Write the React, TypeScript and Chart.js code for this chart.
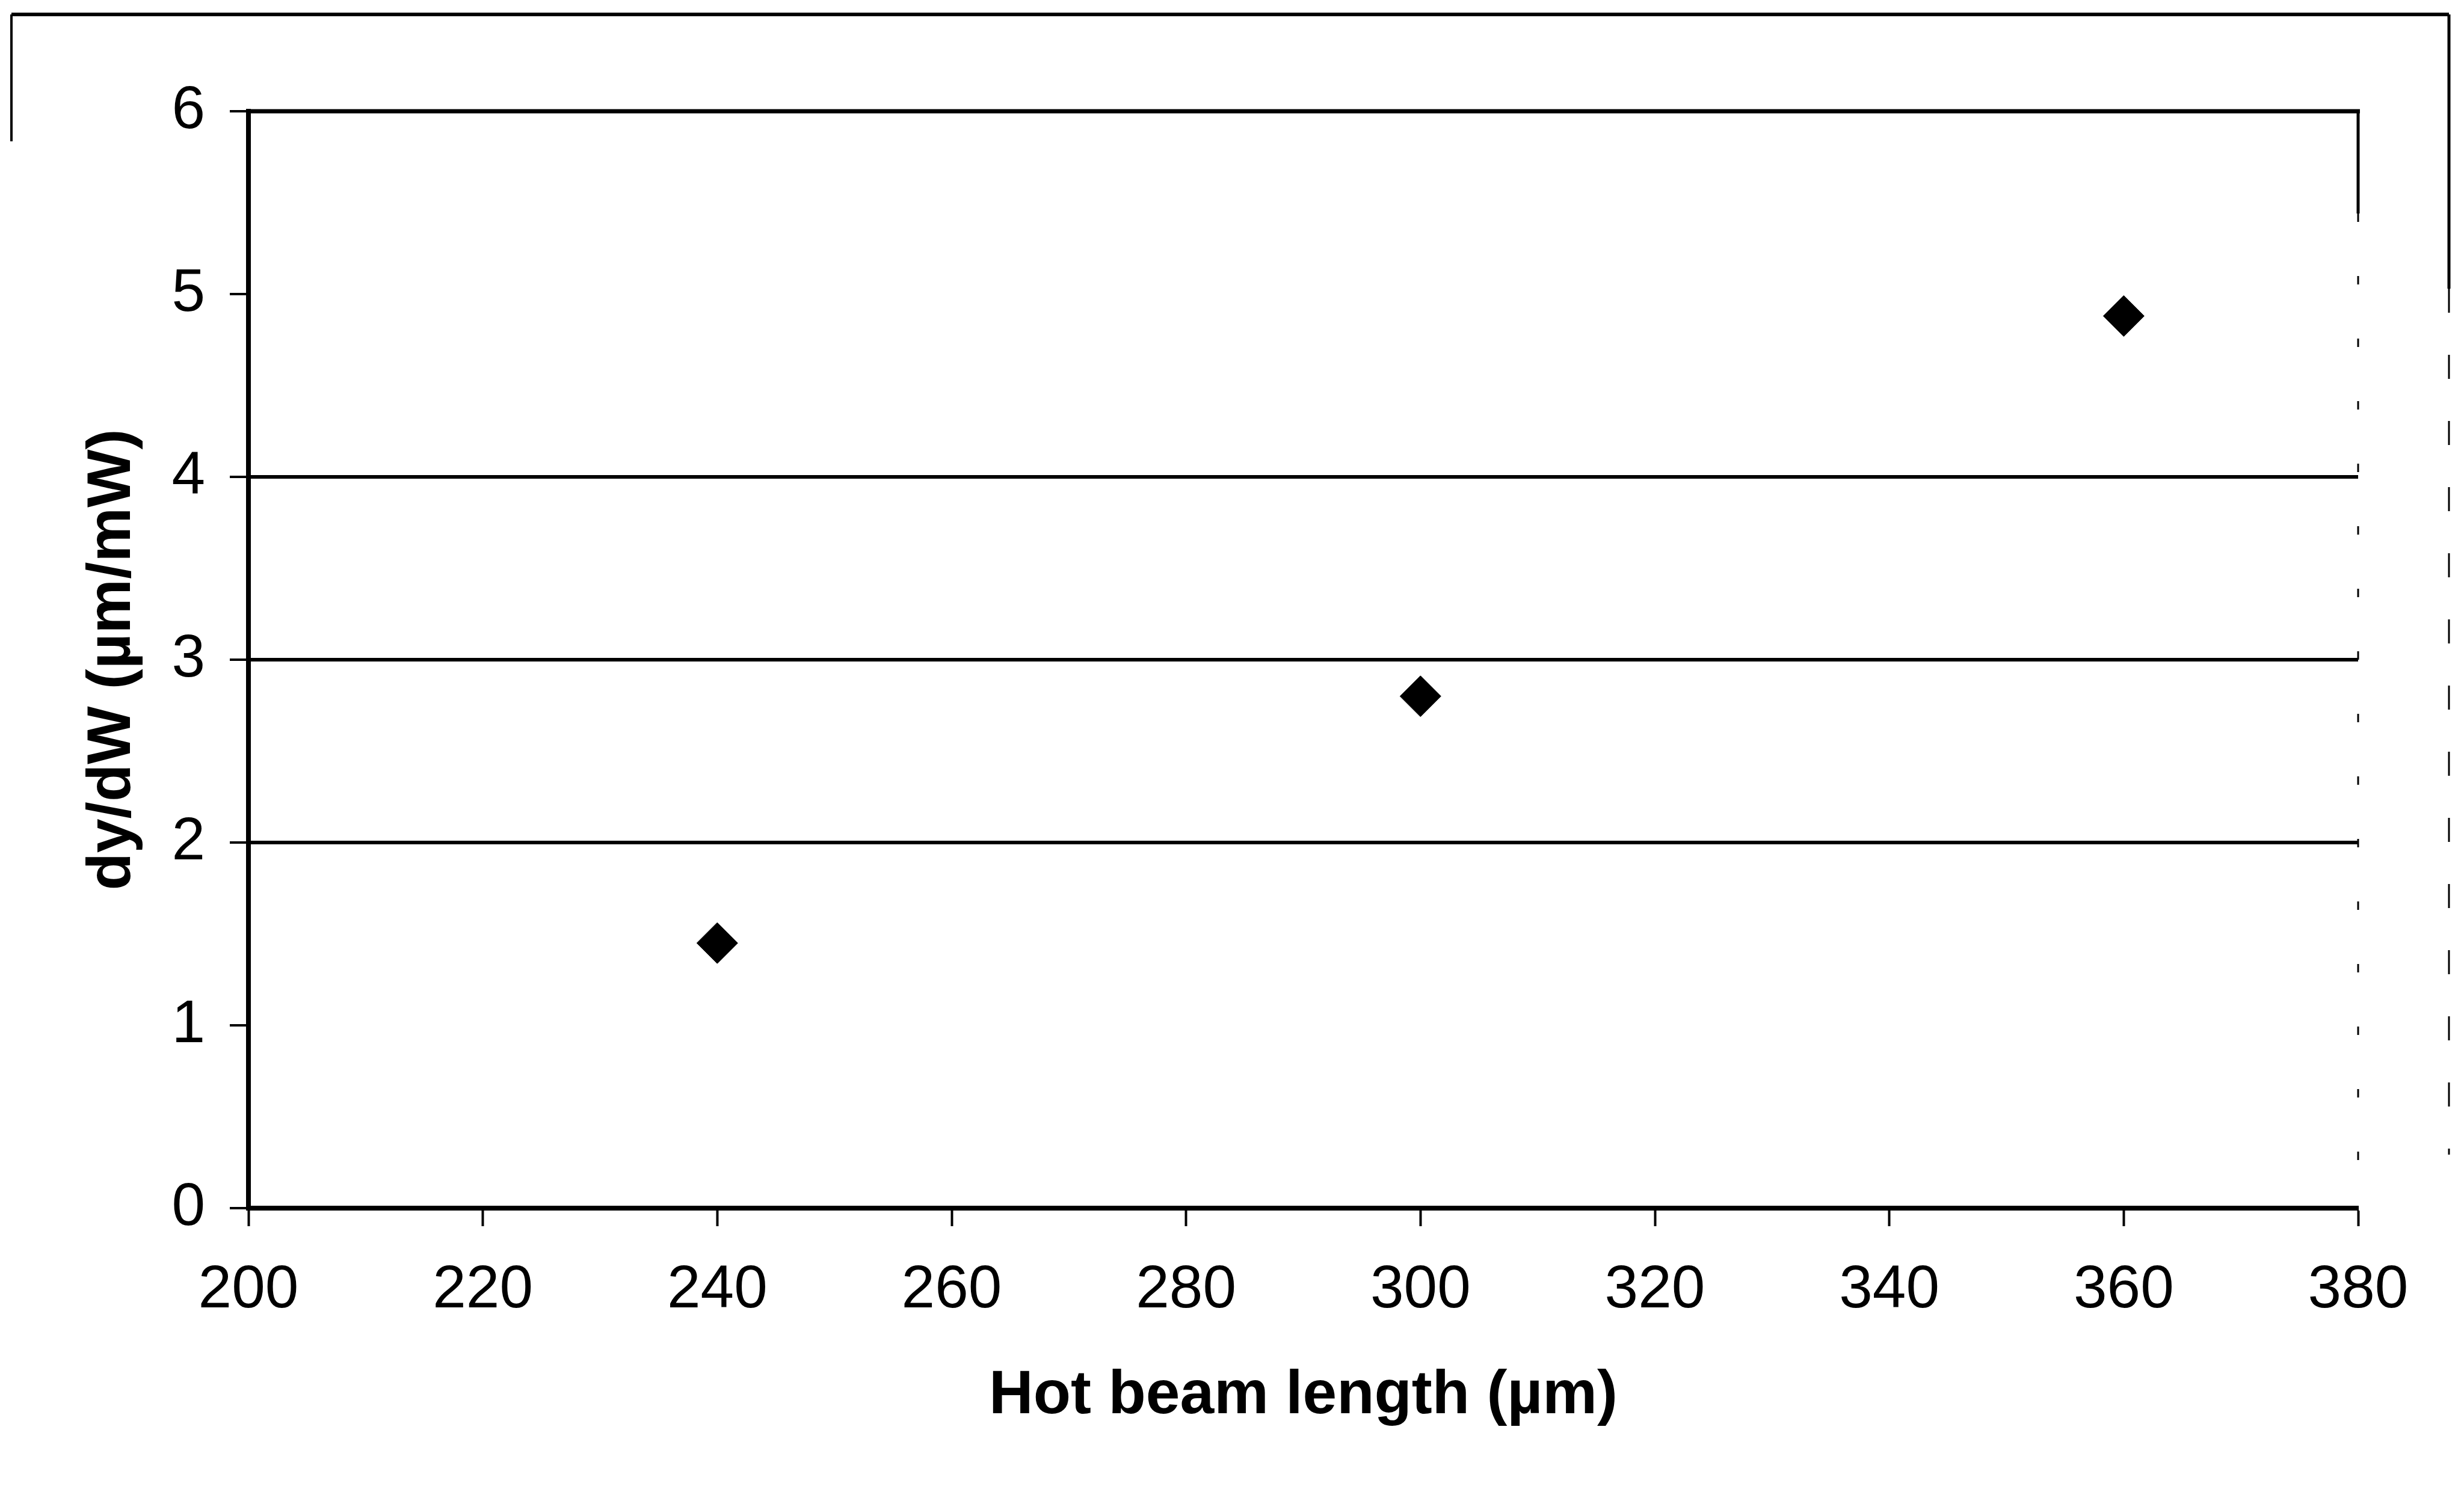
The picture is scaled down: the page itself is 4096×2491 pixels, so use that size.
import React, { useEffect, useRef } from "react";
import { Chart, registerables } from "chart.js";

Chart.register(...registerables);

// Measured sensitivity of the actuator versus hot beam length
const beamLengths = [240, 300, 360];
const sensitivity = [1.45, 2.8, 4.88];

// Axis ticks and labels
const xTicks = [200, 220, 240, 260, 280, 300, 320, 340, 360, 380];
const yTicks = [0, 1, 2, 3, 4, 5, 6];
const gridValues = [2, 3, 4];
const xTitle = "Hot beam length (µm)";
const yTitle = "dy/dW (µm/mW)";

const FONT = "'Liberation Sans', Arial, Helvetica, sans-serif";

function strokeLine(ctx: CanvasRenderingContext2D, x1: number, y1: number, x2: number, y2: number, w: number, dash: number[] = []) {
  ctx.beginPath();
  ctx.lineWidth = w;
  ctx.setLineDash(dash);
  ctx.moveTo(x1, y1);
  ctx.lineTo(x2, y2);
  ctx.stroke();
}

// Plot-area top/right edges and the outer chart frame
const framePlugin = {
  id: "frame",
  afterDraw(chart: any) {
    const { ctx, chartArea: a, width } = chart;
    ctx.save();
    ctx.strokeStyle = "#000";
    ctx.lineCap = "butt";
    strokeLine(ctx, a.left - 4, a.top, a.right + 3, a.top, 7);
    strokeLine(ctx, a.right, a.top, a.right, a.top + 170, 5);
    strokeLine(ctx, a.right, a.top + 170, a.right, a.bottom, 3, [14, 90]);
    const fx1 = 19;
    const fx2 = width - 25;
    const fy = 24;
    strokeLine(ctx, fx1, fy, fx2, fy, 6);
    strokeLine(ctx, fx1, fy, fx1, 235, 4);
    strokeLine(ctx, fx2, fy, fx2, 480, 5);
    strokeLine(ctx, fx2, 480, fx2, 1920, 3, [40, 70]);
    ctx.restore();
  },
};

export default function App() {
  const ref = useRef<HTMLCanvasElement | null>(null);

  useEffect(() => {
    document.body.style.margin = "0";
    document.body.style.overflow = "hidden";
    const canvas = ref.current;
    if (!canvas) return;

    const chart = new Chart(canvas, {
      type: "scatter",
      data: {
        datasets: [
          {
            data: beamLengths.map((x, i) => ({ x, y: sensitivity[i] })),
            pointStyle: "rectRot",
            pointRadius: 34,
            pointHoverRadius: 34,
            backgroundColor: "#000",
            borderColor: "#000",
            borderWidth: 1,
          },
        ],
      },
      options: {
        responsive: false,
        animation: false,
        devicePixelRatio: 1,
        layout: { padding: { left: 0, top: 185, right: 176, bottom: 0 } },
        plugins: {
          legend: { display: false },
          tooltip: { enabled: false },
        },
        scales: {
          x: {
            type: "linear",
            min: xTicks[0],
            max: xTicks[xTicks.length - 1],
            afterBuildTicks: (s: any) => {
              s.ticks = xTicks.map((v) => ({ value: v }));
            },
            afterFit: (s: any) => {
              s.height = 482;
            },
            border: { display: true, color: "#000", width: 8 },
            grid: {
              drawOnChartArea: false,
              drawTicks: true,
              tickLength: 30,
              tickColor: "#000",
              tickWidth: 4,
            },
            ticks: {
              color: "#000",
              padding: 47,
              maxRotation: 0,
              autoSkip: false,
              font: { family: FONT, size: 100, lineHeight: 1.2 },
            },
            title: {
              display: true,
              text: xTitle,
              color: "#000",
              padding: { top: 0, bottom: 108 },
              font: { family: FONT, size: 102, weight: "bold", lineHeight: 1.2 },
            },
          },
          y: {
            type: "linear",
            min: yTicks[0],
            max: yTicks[yTicks.length - 1],
            afterBuildTicks: (s: any) => {
              s.ticks = yTicks.map((v) => ({ value: v }));
            },
            afterFit: (s: any) => {
              s.width = 413;
            },
            border: { display: true, color: "#000", width: 8 },
            grid: {
              drawOnChartArea: true,
              drawTicks: true,
              tickLength: 31,
              tickColor: "#000",
              tickWidth: 4,
              lineWidth: 6,
              color: (c: any) =>
                c.tick && gridValues.includes(c.tick.value) ? "#000" : "rgba(0,0,0,0)",
            },
            ticks: {
              color: "#000",
              padding: 41,
              autoSkip: false,
              font: { family: FONT, size: 100, lineHeight: 1.2 },
            },
            title: {
              display: true,
              text: yTitle,
              color: "#000",
              padding: { top: 127, bottom: 0 },
              font: { family: FONT, size: 102, weight: "bold", lineHeight: 1.2 },
            },
          },
        },
      },
      plugins: [framePlugin],
    } as any);

    return () => chart.destroy();
  }, []);

  return (
    <div style={{ width: 4096, height: 2491, background: "#fff" }}>
      <canvas ref={ref} width={4096} height={2491} style={{ display: "block", width: 4096, height: 2491 }} />
    </div>
  );
}
